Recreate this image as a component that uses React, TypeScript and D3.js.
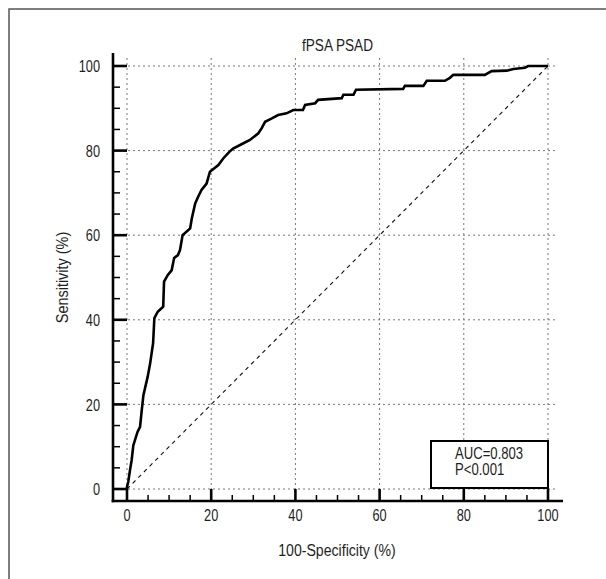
import React from "react";
import * as d3 from "d3";

const fprValues = [0, 0, 0.3, 0.7, 1.1, 1.5, 2.5, 3.1, 3.5, 3.9, 4.9, 5.5, 6.2, 6.5, 7.3, 8.6, 8.8, 9.7, 10.6, 11.2, 12.1, 12.6, 13.2, 15.0, 15.4, 16.2, 16.9, 17.7, 18.9, 19.7, 21.7, 22.9, 24.3, 25.2, 27.2, 29.2, 31.2, 32.0, 32.8, 34.4, 35.9, 37.9, 39.5, 41.8, 42.3, 44.7, 45.4, 51.0, 51.4, 53.8, 54.4, 65.6, 66.0, 70.4, 71.2, 75.5, 76.7, 77.5, 85.0, 86.6, 90.2, 91.8, 94.5, 95.3, 100];
const tprValues = [0, 0.5, 1.7, 4.4, 6.8, 10.3, 13.5, 14.7, 18.6, 22.2, 26.5, 29.7, 34.5, 40.4, 41.9, 43.1, 49.0, 50.6, 51.7, 54.6, 55.3, 56.5, 60.0, 61.6, 64.0, 67.5, 69.1, 70.7, 72.2, 75.0, 76.6, 78.2, 79.7, 80.5, 81.5, 82.5, 84.1, 85.3, 86.8, 87.6, 88.4, 88.8, 89.6, 89.6, 90.8, 91.2, 92.0, 92.4, 93.2, 93.2, 94.4, 94.6, 95.3, 95.3, 96.5, 96.5, 97.2, 97.9, 97.9, 98.8, 98.9, 99.3, 99.6, 100, 100];
const majorTicks = [0, 20, 40, 60, 80, 100];
const minorTicks = [5, 10, 15, 25, 30, 35, 45, 50, 55, 65, 70, 75, 85, 90, 95];
const titleText = "fPSA PSAD";
const xLabel = "100-Specificity (%)";
const yLabel = "Sensitivity (%)";
const legendLines = ["AUC=0.803", "P<0.001"];

const FONT = "'Liberation Sans', Arial, sans-serif";

function T(props: {
  x: number;
  y: number;
  s: string;
  size: number;
  sx: number;
  anchor?: string;
  rot?: number;
  dy?: string;
}) {
  const { x, y, s, size, sx, anchor = "start", rot = 0, dy } = props;
  return (
    <text
      transform={`translate(${x},${y}) rotate(${rot}) scale(${sx},1)`}
      textAnchor={anchor}
      fontSize={size}
      dy={dy}
      fill="#1e1e1e"
    >
      {s}
    </text>
  );
}

export default function App() {
  const x = d3.scaleLinear().domain([0, 100]).range([127, 548]);
  const y = d3.scaleLinear().domain([0, 100]).range([489, 66]);
  const axisX = 113;
  const axisY = 501;
  const pts: [number, number][] = fprValues.map((v, i) => [v, tprValues[i]]);
  const line = d3
    .line<[number, number]>()
    .x((d) => x(d[0]))
    .y((d) => y(d[1]));

  return (
    <svg
      width={606}
      height={579}
      style={{ position: "absolute", left: 0, top: 0, background: "#fff" }}
      fontFamily={FONT}
    >
      <rect x={9} y={9} width={620} height={600} fill="none" stroke="#555" strokeWidth={1.5} />
      {majorTicks.map((t) => (
        <line key={"gh" + t} x1={axisX} x2={558} y1={y(t)} y2={y(t)} stroke="#777" strokeWidth={1} strokeDasharray="2,3" />
      ))}
      {majorTicks.map((t) => (
        <line key={"gv" + t} x1={x(t)} x2={x(t)} y1={58} y2={axisY} stroke="#777" strokeWidth={1} strokeDasharray="2,3" />
      ))}
      <line x1={x(0)} y1={y(0)} x2={x(100)} y2={y(100)} stroke="#111" strokeWidth={1.1} strokeDasharray="4,4" />
      <path d={line(pts) || ""} fill="none" stroke="#000" strokeWidth={2.6} strokeLinejoin="miter" />
      <line x1={axisX} x2={axisX} y1={53} y2={axisY + 1.3} stroke="#000" strokeWidth={2.6} />
      <line x1={axisX - 1.3} x2={563} y1={axisY} y2={axisY} stroke="#000" strokeWidth={2.6} />
      {majorTicks.map((t) => (
        <line key={"ym" + t} x1={axisX} x2={axisX + 14} y1={y(t)} y2={y(t)} stroke="#000" strokeWidth={2.6} />
      ))}
      {minorTicks.map((t) => (
        <line key={"yn" + t} x1={axisX} x2={axisX + 7} y1={y(t)} y2={y(t)} stroke="#000" strokeWidth={1.5} />
      ))}
      {majorTicks.map((t) => (
        <line key={"xm" + t} x1={x(t)} x2={x(t)} y1={axisY} y2={axisY - 12} stroke="#000" strokeWidth={2.6} />
      ))}
      {minorTicks.map((t) => (
        <line key={"xn" + t} x1={x(t)} x2={x(t)} y1={axisY} y2={axisY - 6} stroke="#000" strokeWidth={1.5} />
      ))}
      {majorTicks.map((t) => (
        <T key={"yl" + t} x={100} y={y(t)} dy="0.36em" anchor="end" size={17} sx={0.75} s={String(t)} />
      ))}
      {majorTicks.map((t) => (
        <T key={"xl" + t} x={x(t)} y={521} anchor="middle" size={17} sx={0.75} s={String(t)} />
      ))}
      <T x={(x(0) + x(100)) / 2} y={51} anchor="middle" size={17} sx={0.8} s={titleText} />
      <T x={337} y={556} anchor="middle" size={17} sx={0.83} s={xLabel} />
      <T x={68} y={(y(0) + y(100)) / 2} rot={-90} anchor="middle" size={17} sx={0.85} s={yLabel} />
      <rect x={431} y={441} width={117} height={47} fill="#fff" stroke="#000" strokeWidth={2} />
      {legendLines.map((s, i) => (
        <T key={s} x={455} y={459 + i * 16} size={16} sx={0.82} s={s} />
      ))}
    </svg>
  );
}
